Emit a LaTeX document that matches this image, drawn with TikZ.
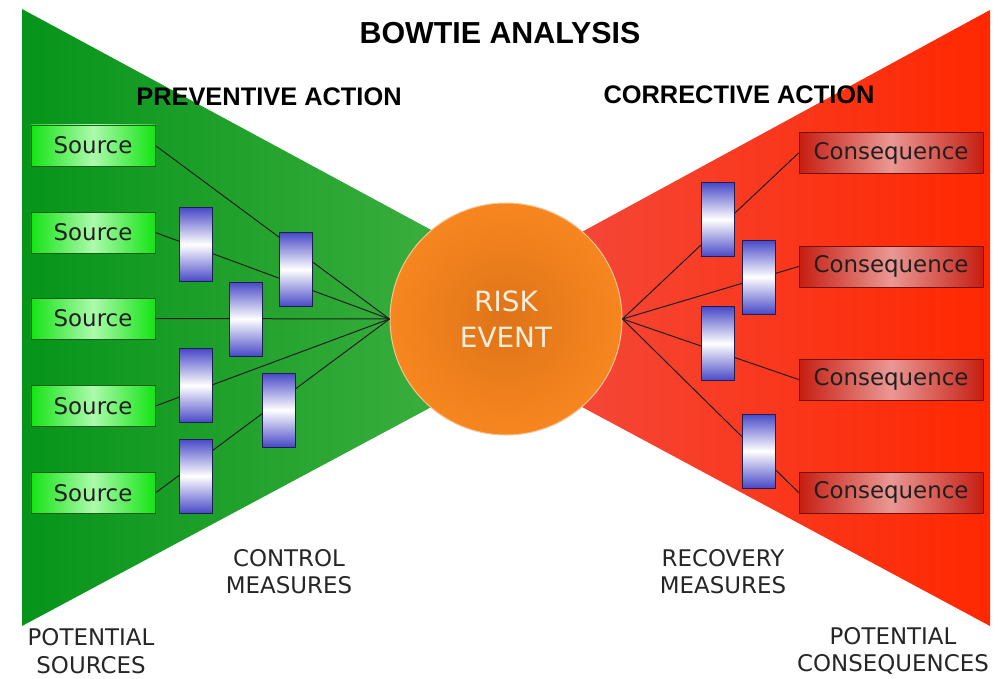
\documentclass[tikz,border=0pt]{standalone}
\usepackage{fontspec}
\setmainfont{DejaVu Sans}
\newfontfamily\headfont{Liberation Sans}
\usepackage{xcolor}
\usepackage{tikz}
\usetikzlibrary{positioning}

\definecolor{wingL}{RGB}{6,148,26}
\definecolor{wingLlight}{RGB}{78,184,74}
\definecolor{wingR}{RGB}{255,40,0}
\definecolor{wingRlight}{RGB}{240,82,76}
\definecolor{srcgreen}{RGB}{20,228,20}
\definecolor{srclight}{RGB}{172,250,172}
\definecolor{srcedge}{RGB}{30,90,30}
\definecolor{conred}{RGB}{198,30,18}
\definecolor{conlight}{RGB}{234,152,148}
\definecolor{conedge}{RGB}{110,16,12}
\definecolor{barblue}{RGB}{72,72,200}
\definecolor{baredge}{RGB}{30,30,80}
\definecolor{riskdark}{RGB}{222,116,24}
\definecolor{risklight}{RGB}{247,134,31}
\definecolor{riskrim}{RGB}{246,196,150}
\definecolor{risktext}{RGB}{250,238,220}

\tikzset{
  source/.style={draw=srcedge, line width=0.8bp, left color=srcgreen, right color=srcgreen,
    middle color=srclight, minimum width=124bp, minimum height=41bp, inner sep=0pt,
    font=\fontsize{23}{27}\selectfont, text=black!88},
  conseq/.style={source, draw=conedge, left color=conred, right color=conred,
    middle color=conlight, minimum width=184bp},
  barrier/.style={draw=baredge, line width=0.8bp, top color=barblue, bottom color=barblue,
    middle color=white, minimum width=33bp, minimum height=74bp, inner sep=0pt},
  link/.style={line width=1bp, black!88},
  head/.style={font=\headfont\bfseries\fontsize{25.5}{30}\selectfont},
  caption/.style={align=center, font=\fontsize{23}{27.5}\selectfont, text=black!85}
}

\begin{document}
\begin{tikzpicture}[x=1bp, y=-1bp]
    \useasboundingbox[fill=white] (0,0) rectangle (1008,679);
    % the two wings of the bow tie
    \shade[left color=wingL, right color=wingLlight] (22,9) -- (596,319) -- (22,626) -- cycle;
    \shade[left color=wingRlight, right color=wingR] (990,10) -- (420,320) -- (990,626) -- cycle;
    % headings
    \node[head, font=\headfont\bfseries\fontsize{30.5}{36}\selectfont] (title) at (500,33) {BOWTIE ANALYSIS};
    \node[head] (prevent) at (269,97) {PREVENTIVE ACTION};
    \node[head] (correct) at (739,95) {CORRECTIVE ACTION};
    % central event
    \node[circle, minimum size=232bp, inner sep=0pt, draw=riskrim, line width=1bp,
          inner color=riskdark, outer color=risklight, align=center, text=risktext,
          font=\fontsize{28}{36}\selectfont] (risk) at (506,319) {RISK\\EVENT};
    % sources
    \node[source] (s1) at (93,145.5) {Source};
    \node[source] (s2) at (93,232.5) {Source};
    \node[source] (s3) at (93,318.5) {Source};
    \node[source] (s4) at (93,406) {Source};
    \node[source] (s5) at (93,493) {Source};
    % consequences
    \node[conseq] (c1) at (891,153) {Consequence};
    \node[conseq] (c2) at (891,266.5) {Consequence};
    \node[conseq] (c3) at (891,379.5) {Consequence};
    \node[conseq] (c4) at (891,492.5) {Consequence};
    % threat and consequence lines
    \draw[link] (s1.east) -- (risk.west);
    \draw[link] (s2.east) -- (risk.west);
    \draw[link] (s3.east) -- (risk.west);
    \draw[link] (s4.east) -- (risk.west);
    \draw[link] (s5.east) -- (risk.west);
    \draw[link] (risk.east) -- (c1.west);
    \draw[link] (risk.east) -- (c2.west);
    \draw[link] (risk.east) -- (c3.west);
    \draw[link] (risk.east) -- (c4.west);
    % control barriers (left) and recovery barriers (right)
    \node[barrier] (b1) at (195.5,244.5) {};
    \node[barrier] (b2) at (295.5,269.5) {};
    \node[barrier] (b3) at (245.5,319) {};
    \node[barrier] (b4) at (195.5,385.5) {};
    \node[barrier] (b5) at (278.5,410) {};
    \node[barrier] (b6) at (195.5,476) {};
    \node[barrier] (r1) at (717.5,219.5) {};
    \node[barrier] (r2) at (758.5,277) {};
    \node[barrier] (r3) at (717.5,343.5) {};
    \node[barrier] (r4) at (758.5,451) {};
    % captions
    \node[caption] (control) at (289,571.5) {CONTROL\\MEASURES};
    \node[caption] (recovery) at (723,571.5) {RECOVERY\\MEASURES};
    \node[caption] (psources) at (91,651) {POTENTIAL\\SOURCES};
    \node[caption] (pconseq) at (893,651) {POTENTIAL\\CONSEQUENCES};
\end{tikzpicture}
\end{document}
